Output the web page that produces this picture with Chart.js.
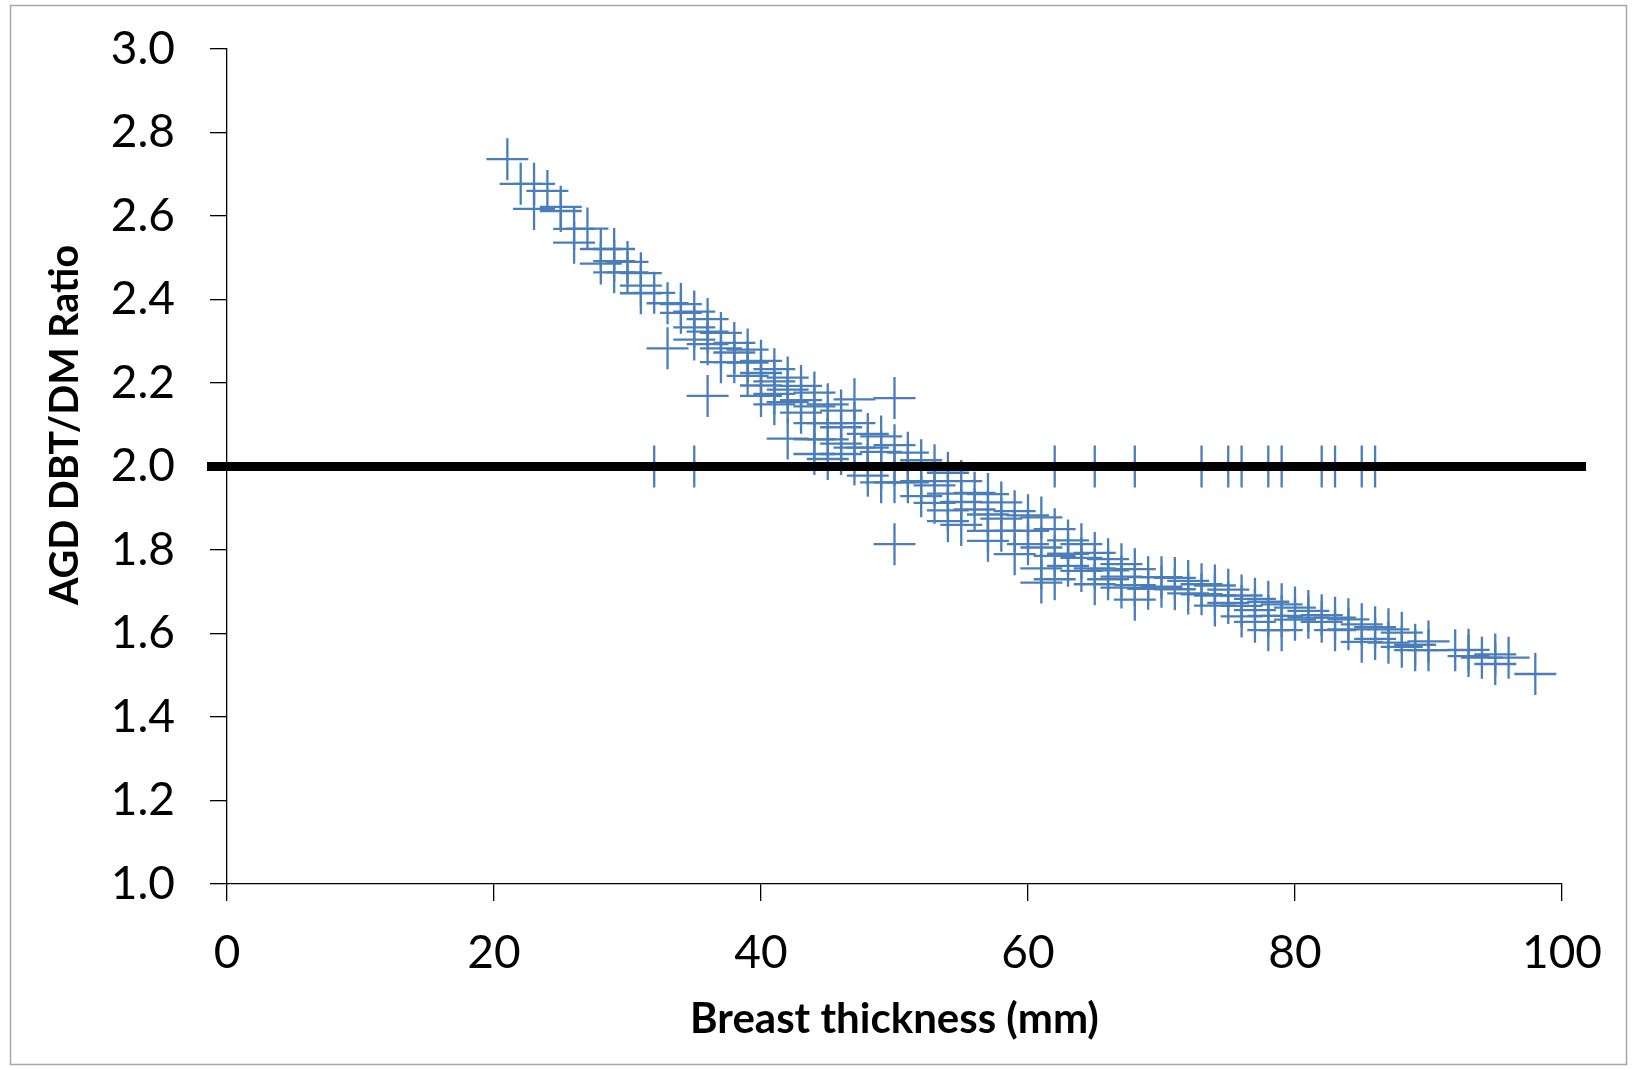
<!DOCTYPE html>
<html>
<head>
<meta charset="utf-8">
<script src="https://cdn.jsdelivr.net/npm/chart.js@4.4.1/dist/chart.umd.min.js"></script>
<style>
  html, body { margin: 0; padding: 0; background: #ffffff; }
  #wrap { width: 1637px; height: 1070px; }
</style>
</head>
<body>
<div id="wrap"><canvas id="c" width="1637" height="1070"></canvas></div>
<script>
// ---- Data ----
const thicknessMm = [21,22,23,24,25,26,27,28,29,30,31,32,33,34,35,36,37,38,39,40,41,42,43,44,45,46,47,48,49,50,
  51,52,53,54,55,56,57,58,59,60,61,62,63,64,65,66,67,68,69,70,71,72,73,74,75,76,77,78,79,80,
  81,82,83,84,85,86,87,88,89,90,92,93,94,95,96,98];
const ratioByThickness = [
  [2.736],[2.677],[2.677,2.617],[2.660],[2.622,2.612],[2.569,2.536],[2.570],[2.521,2.486],[2.521,2.492,2.465],[2.490,2.465],
  [2.463,2.433,2.415],[2.416],[2.391,2.283],[2.389,2.368],[2.371,2.333,2.304],[2.353,2.323,2.293,2.169],[2.320,2.283,2.250],[2.296,2.273,2.250],[2.280,2.249,2.217],[2.253,2.224,2.194,2.169],
  [2.233,2.204,2.174,2.149],[2.213,2.184,2.154,2.067],[2.193,2.159,2.129],[2.177,2.144,2.104,2.065,2.030],[2.149,2.104,2.065,2.018],[2.134,2.094,2.055,2.030],[2.161,2.104,2.045,2.005],[2.078,2.045,2.005,1.978],[2.072,2.035,1.995,1.962],[2.164,2.051,2.005,1.962,1.814],
  [2.033,1.995,1.962],[2.015,1.965,1.929],[2.003,1.955,1.913],[1.985,1.935,1.895,1.869],[1.965,1.915,1.860],[1.937,1.897],[1.934,1.885,1.846,1.822],[1.914,1.875,1.846],[1.893,1.846,1.790],[1.883,1.846,1.814],
  [1.878,1.806,1.756,1.722],[1.850,1.786,1.730],[1.823,1.791,1.762],[1.814,1.781,1.750],[1.793,1.756,1.718],[1.778,1.751,1.730],[1.766,1.736,1.710],[1.754,1.716,1.681],[1.735,1.707],[1.735,1.712],
  [1.733,1.706],[1.726,1.696],[1.718,1.694],[1.715,1.691,1.667],[1.705,1.673],[1.691,1.666,1.641],[1.683,1.656,1.628],[1.676,1.642,1.608],[1.670,1.642,1.608],[1.662,1.633],
  [1.654,1.638],[1.644,1.628],[1.638,1.608],[1.634,1.610],[1.622,1.580],[1.615,1.587],[1.610,1.578],[1.602,1.568],[1.573,1.560],[1.581,1.560],
  [1.560],[1.561,1.546],[1.542],[1.550,1.527],[1.542],[1.503]
];
// points lying exactly on the ratio 2.0 level
const levelThickness = [32,35,62,65,68,73,75,76,78,79,82,83,85,86];
const levelRatio = [2.0,2.0,2.0,2.0,2.0,2.0,2.0,2.0,2.0,2.0,2.0,2.0,2.0,2.0];
// horizontal reference line
const refLineX = [-1.5, 101.8];
const refLineY = [2.0, 2.0];
const xTicks = [0, 20, 40, 60, 80, 100];
const yTicks = [1.0, 1.2, 1.4, 1.6, 1.8, 2.0, 2.2, 2.4, 2.6, 2.8, 3.0];
const xTitle = 'Breast thickness (mm)';
const yTitle = 'AGD DBT/DM Ratio';

// ---- Build chart data ----
const scatterPts = [];
thicknessMm.forEach((t, i) => ratioByThickness[i].forEach(r => scatterPts.push({x: t, y: r})));
levelThickness.forEach((t, i) => scatterPts.push({x: t, y: levelRatio[i]}));
const linePts = refLineX.map((x, i) => ({x: x, y: refLineY[i]}));

const FONT_FAMILY = 'Lato, "Open Sans", sans-serif';

const frame = {
  id: 'frame',
  beforeDraw(chart) {
    const ctx = chart.ctx;
    ctx.save();
    ctx.fillStyle = '#ffffff';
    ctx.fillRect(0, 0, chart.width, chart.height);
    ctx.strokeStyle = '#a6a6a6';
    ctx.lineWidth = 1.5;
    ctx.strokeRect(10.5, 5.5, 1616, 1059);
    ctx.restore();
  },
  afterDraw(chart) {
    // vertical axis title (placed slightly above the axis centre, as in the original)
    const ctx = chart.ctx;
    ctx.save();
    ctx.translate(65, 425);
    ctx.rotate(-Math.PI / 2);
    ctx.font = 'bold 39.5px ' + FONT_FAMILY;
    ctx.fillStyle = '#000000';
    ctx.textAlign = 'center';
    ctx.textBaseline = 'middle';
    ctx.fillText(yTitle, 0, 0);
    ctx.restore();
  }
};

const tickFont = {family: FONT_FAMILY, size: 46};

new Chart(document.getElementById('c'), {
  type: 'scatter',
  data: {
    datasets: [
      {
        type: 'line',
        data: linePts,
        borderColor: '#000000',
        borderWidth: 9,
        pointRadius: 0,
        fill: false,
        clip: false,
        order: 0
      },
      {
        data: scatterPts,
        pointStyle: 'cross',
        pointRadius: 21,
        borderWidth: 2.3,
        borderColor: '#4a7ebb',
        backgroundColor: '#4a7ebb',
        order: 1
      }
    ]
  },
  options: {
    responsive: false,
    devicePixelRatio: 1,
    animation: false,
    events: [],
    layout: { autoPadding: false, padding: { top: 49, right: 75, left: 0, bottom: 0 } },
    plugins: { legend: { display: false }, tooltip: { enabled: false } },
    scales: {
      x: {
        type: 'linear',
        min: 0, max: 100,
        afterBuildTicks: s => { s.ticks = xTicks.map(v => ({value: v})); },
        afterFit: s => { s.height = 186; s.paddingLeft = 0; s.paddingRight = 0; },
        border: { display: true, color: '#000000', width: 1.3 },
        grid: { display: true, drawOnChartArea: false, drawTicks: true, tickLength: 17, color: '#000000', tickColor: '#000000', lineWidth: 1.3 },
        ticks: { font: tickFont, color: '#000000', padding: 25, maxRotation: 0 },
        title: { display: true, text: xTitle, font: {family: FONT_FAMILY, size: 42, weight: 'bold'}, color: '#000000', padding: { top: 0, bottom: 25 } }
      },
      y: {
        type: 'linear',
        min: 1, max: 3,
        afterBuildTicks: s => { s.ticks = yTicks.map(v => ({value: v})); },
        afterFit: s => { s.width = 227; s.paddingTop = 0; s.paddingBottom = 0; },
        border: { display: true, color: '#000000', width: 1.3 },
        grid: { display: true, drawOnChartArea: false, drawTicks: true, tickLength: 17, color: '#000000', tickColor: '#000000', lineWidth: 1.3 },
        ticks: { font: tickFont, color: '#000000', padding: 35, callback: v => Number(v).toFixed(1) },
        title: { display: false, text: yTitle }
      }
    }
  },
  plugins: [frame]
});
</script>
</body>
</html>
